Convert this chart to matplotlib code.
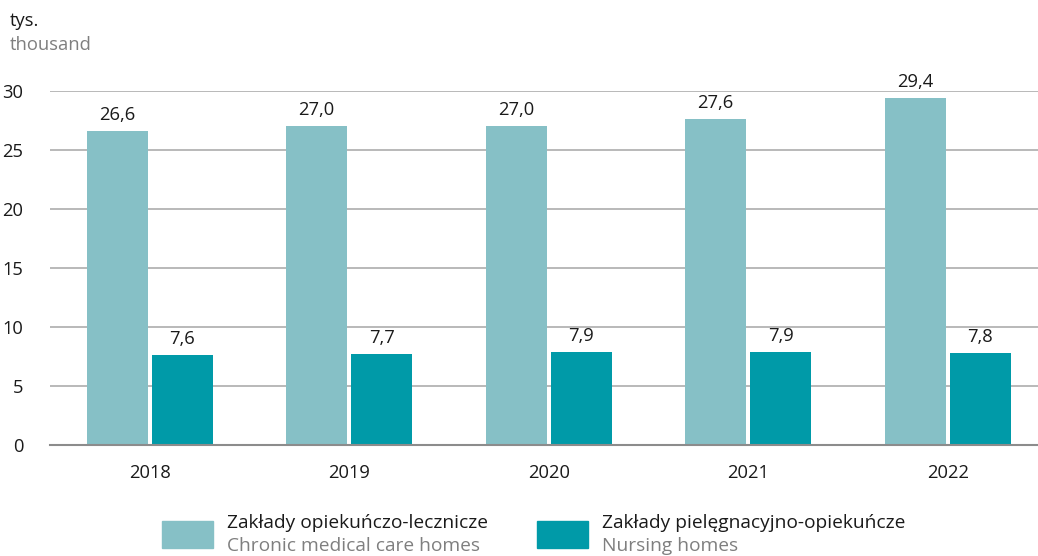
import numpy as np
import matplotlib.pyplot as plt
from matplotlib.patches import Rectangle

plt.rcParams['font.family'] = ['Open Sans', 'DejaVu Sans']

years = ['2018', '2019', '2020', '2021', '2022']
chronic = [26.6, 27.0, 27.0, 27.6, 29.4]   # Zakłady opiekuńczo-lecznicze
nursing = [7.6, 7.7, 7.9, 7.9, 7.8]        # Zakłady pielęgnacyjno-opiekuńcze
yticks = [0, 5, 10, 15, 20, 25, 30]

c_light = '#86c0c6'
c_dark = '#009aa8'
grey_txt = '#7f7f7f'
fs = 13.2

W, H = 1038, 556
fig = plt.figure(figsize=(W / 100, H / 100), dpi=100)
ax = fig.add_axes([50 / W, (H - 445) / H, 988 / W, (445 - 91) / H])

x = np.arange(len(years))
bw = 0.306
off = 0.163
b1 = ax.bar(x - off, chronic, bw, color=c_light, zorder=3)
b2 = ax.bar(x + off, nursing, bw, color=c_dark, zorder=3)

for bars, vals in ((b1, chronic), (b2, nursing)):
    for r, v in zip(bars, vals):
        ax.text(r.get_x() + r.get_width() / 2, v + 0.6, f'{v:.1f}'.replace('.', ','),
                ha='center', va='bottom', fontsize=fs, color='#1a1a1a', clip_on=False)

ax.set_xlim(-0.5, -0.5 + 988 / 199.5)
ax.set_ylim(0, 30)
ax.set_yticks(yticks)
ax.set_xticks(x)
ax.set_xticklabels(years)
ax.grid(axis='y', color='#a6a6a6', linewidth=1.1, zorder=0)
for s in ('top', 'right', 'left'):
    ax.spines[s].set_visible(False)
ax.spines['bottom'].set_color('#8c8c8c')
ax.spines['bottom'].set_linewidth(1.5)
ax.spines['bottom'].set_zorder(4)
ax.tick_params(axis='both', length=0, labelsize=fs, colors='#1a1a1a')
ax.tick_params(axis='y', pad=19)
ax.tick_params(axis='x', pad=14)

# unit label
fig.text(10 / W, 1 - 21 / H, 'tys.', fontsize=fs, va='center', color='#1a1a1a')
fig.text(10 / W, 1 - 45 / H, 'thousand', fontsize=fs, va='center', color=grey_txt)

# legend
legend = [(162, c_light, 'Zakłady opiekuńczo-lecznicze', 'Chronic medical care homes'),
          (537, c_dark, 'Zakłady pielęgnacyjno-opiekuńcze', 'Nursing homes')]
for px, col, pl, en in legend:
    fig.patches.append(Rectangle((px / W, (H - 548) / H), 51 / W, 27 / H,
                                 transform=fig.transFigure, color=col))
    fig.text((px + 65) / W, 1 - 523 / H, pl, fontsize=13.8, va='center', color='#1a1a1a')
    fig.text((px + 65) / W, 1 - 546 / H, en, fontsize=13.8, va='center', color=grey_txt)

plt.savefig('out.png', dpi=100)
